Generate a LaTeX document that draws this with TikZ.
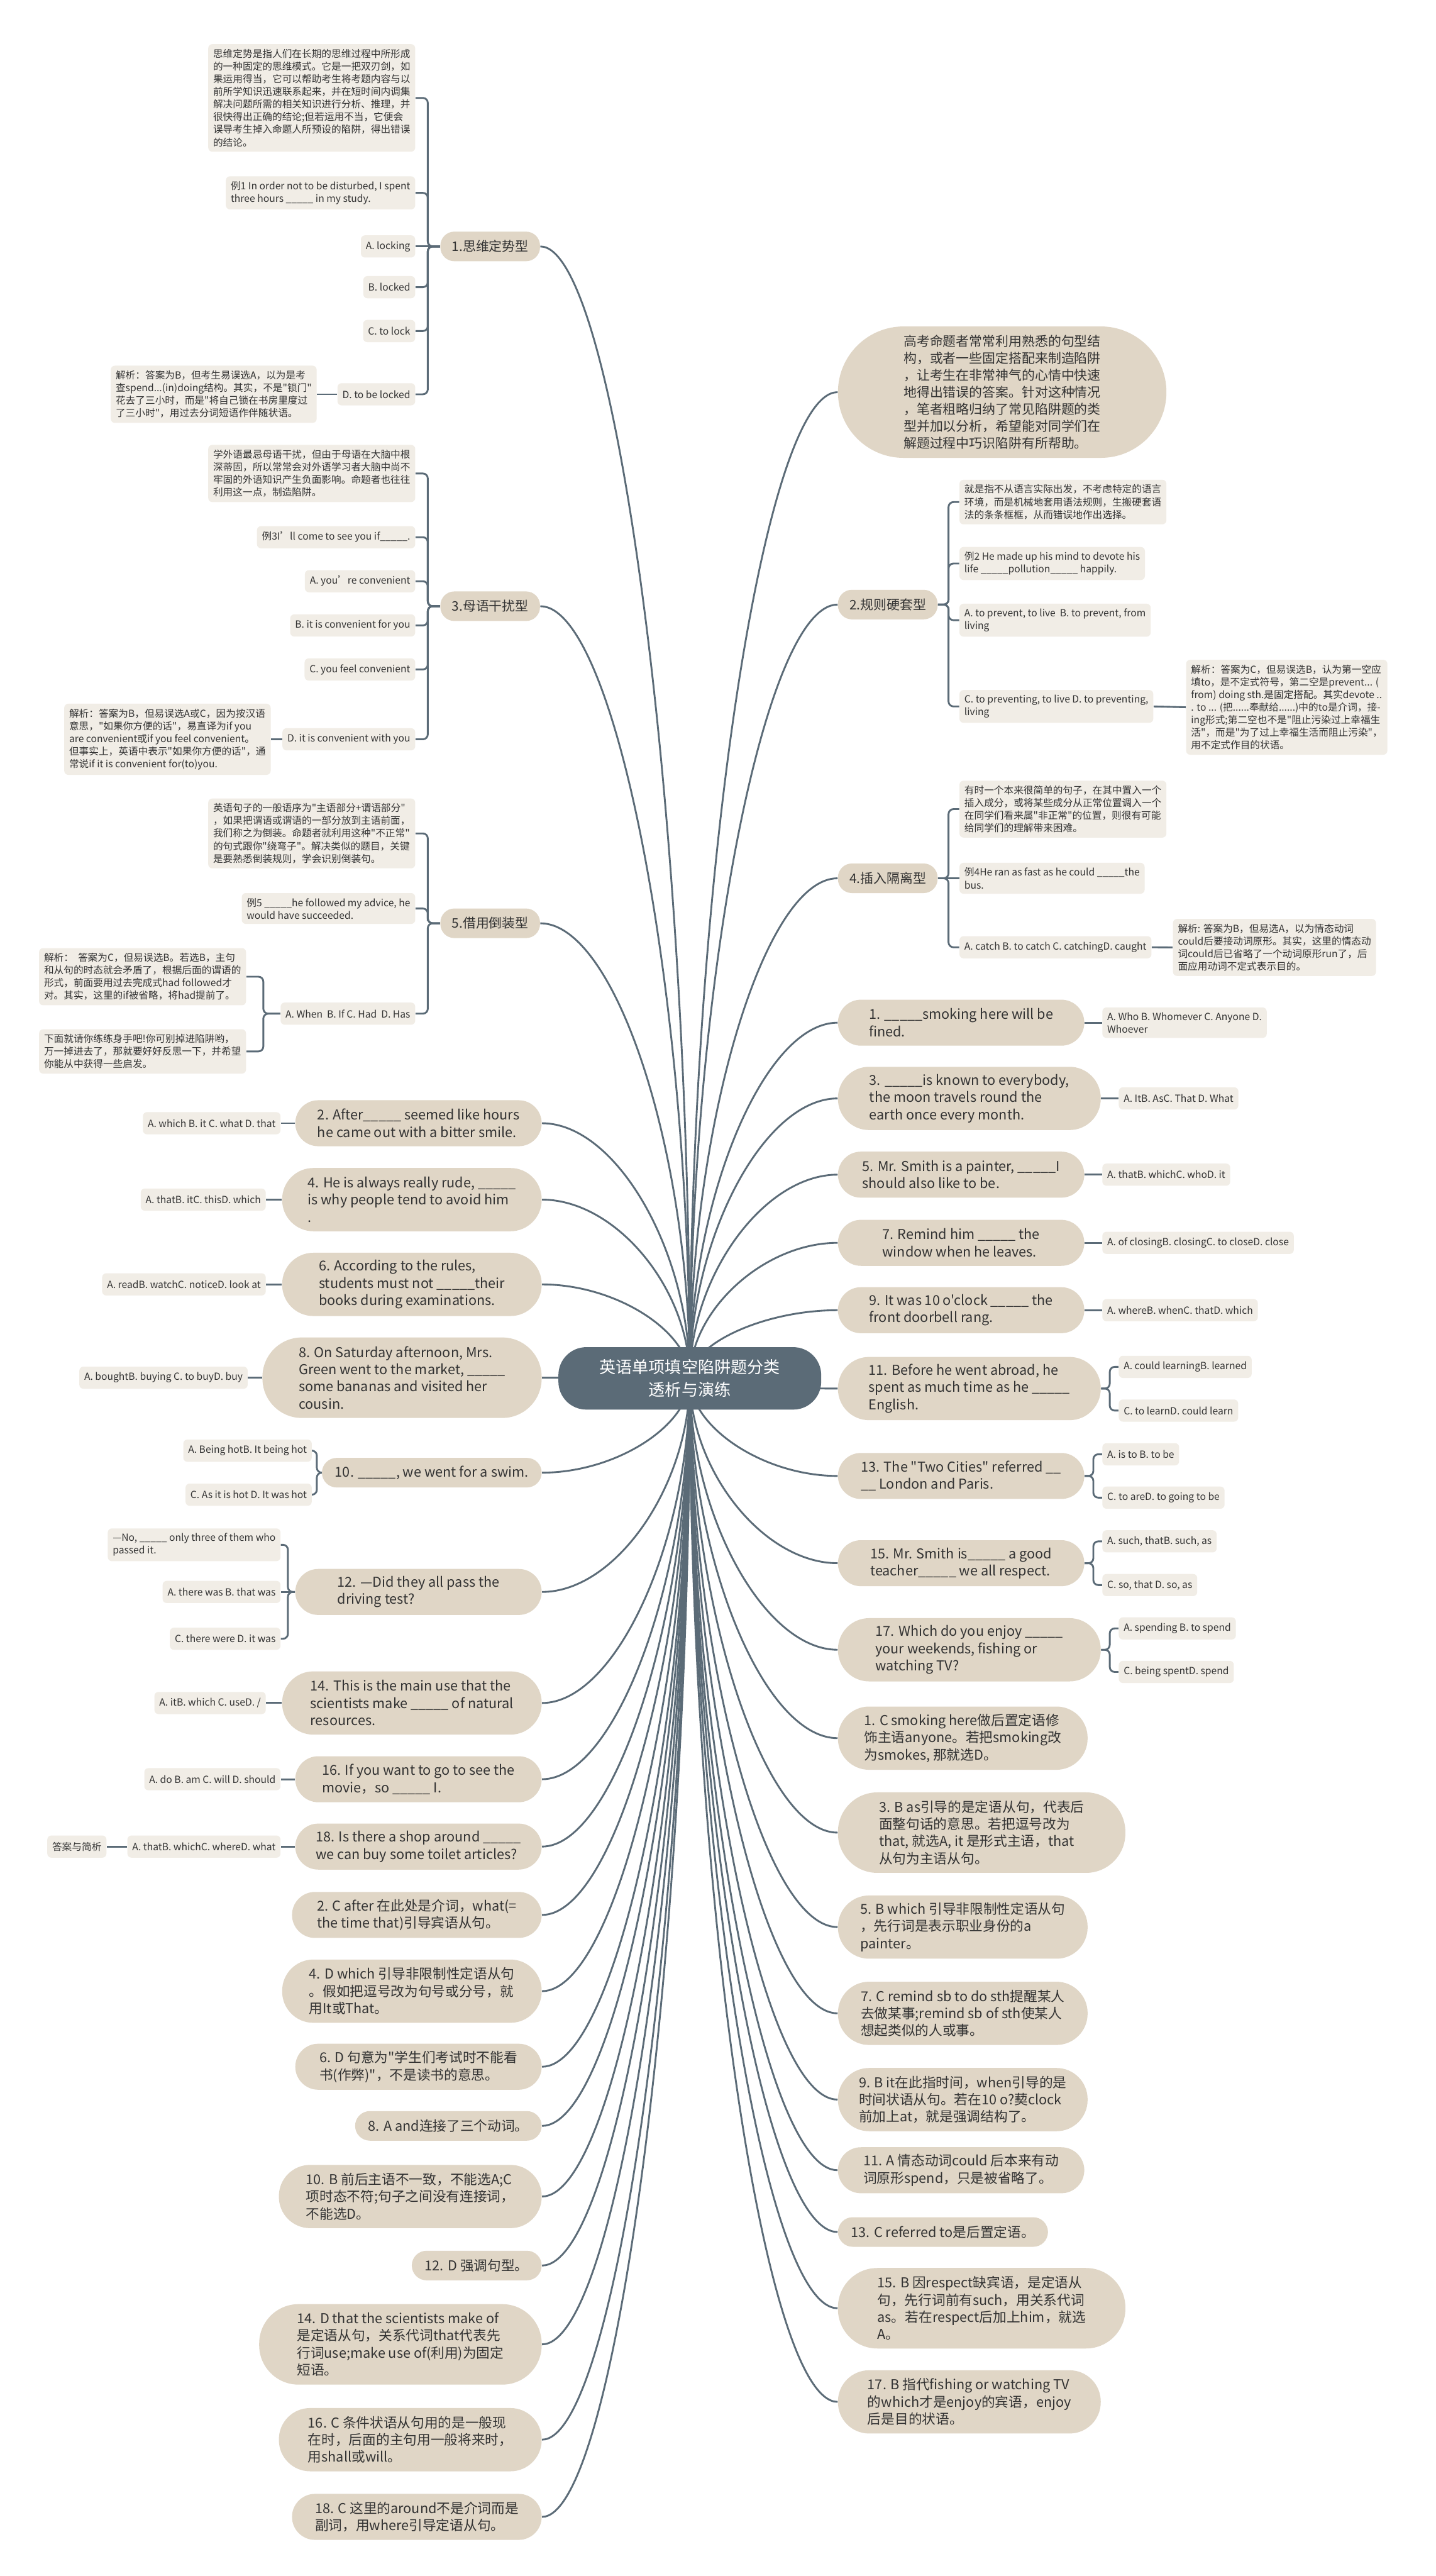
\documentclass[tikz,border=0pt]{standalone}
\usepackage{fontspec}
\setmainfont{Noto Sans CJK SC}[Ligatures=TeXOff]
\usetikzlibrary{calc,backgrounds}
\definecolor{rootc}{HTML}{5B6B77}
\definecolor{topicc}{HTML}{E0D6C6}
\definecolor{leafc}{HTML}{F1EDE6}
\definecolor{linec}{HTML}{5B6B77}
\definecolor{textc}{HTML}{333333}
\newcommand{\qblank}{\_\_\_\_\_}

\begin{document}
\begin{tikzpicture}
[
  x=1pt, y=-1pt,
  every node/.style={text=textc, inner sep=3pt},
  root/.style={fill=rootc, text=white, rounded corners=17pt, minimum width=160pt, minimum height=38pt, align=center, font=\fontsize{10}{14}\selectfont},
  cat/.style={fill=topicc, rounded corners=8.5pt, minimum height=18pt, inner xsep=7pt, font=\fontsize{8}{10}\selectfont},
  intro/.style={fill=topicc, rounded corners=40pt, minimum width=200pt, minimum height=80pt, align=left, font=\fontsize{8}{10.3}\selectfont},
  leaf/.style={fill=leafc, rounded corners=2.5pt, minimum height=13.5pt, align=left, font=\fontsize{6}{7.7}\selectfont},
  pill/.style={fill=topicc, align=left, inner xsep=8pt, inner ysep=4pt, font=\fontsize{8.3}{10.5}\selectfont},
  p1/.style={pill, minimum height=18pt, rounded corners=9pt},
  p2/.style={pill, minimum height=28pt, rounded corners=14pt},
  p3/.style={pill, minimum height=38.5pt, rounded corners=19pt},
  p4/.style={pill, minimum height=49pt, rounded corners=24pt},
  trunk/.style={to path={.. controls ($(\tikztostart)!0.5!(\tikztostart|-\tikztotarget)$) and ($(\tikztotarget)!0.5!(\tikztostart|-\tikztotarget)$) .. (\tikztotarget)}},
  bracket/.style={to path={-| ($(\tikztostart)!0.5!(\tikztotarget)$) |- (\tikztotarget)}},
  link/.style={draw=linec, line width=1.1pt, rounded corners=3pt}
]
\useasboundingbox (0,0) rectangle (874,1568);

\node[root] (root) at (420,839) {英语单项填空陷阱题分类\\透析与演练};

% left: 1
\node[cat, anchor=east] (think) at (329,150) {1.思维定势型};
\node[leaf, anchor=east] (t1) at (253,59.6) {思维定势是指人们在长期的思维过程中所形成\\的一种固定的思维模式。它是一把双刃剑，如\\果运用得当，它可以帮助考生将考题内容与以\\前所学知识迅速联系起来，并在短时间内调集\\解决问题所需的相关知识进行分析、推理，并\\很快得出正确的结论;但若运用不当，它便会\\误导考生掉入命题人所预设的陷阱，得出错误\\的结论。};
\node[leaf, anchor=east] (t2) at (253,117.4) {例1 In order not to be disturbed, I spent\\three hours \qblank{} in my study.};
\node[leaf, anchor=east] (t3) at (253,150) {A. locking};
\node[leaf, anchor=east] (t4) at (253,174.8) {B. locked};
\node[leaf, anchor=east] (t5) at (253,201.5) {C. to lock};
\node[leaf, anchor=east] (t6) at (253,240) {D. to be locked};
\node[leaf, anchor=east] (t7) at (193,240) {解析：答案为B，但考生易误选A，以为是考\\查spend...(in)doing结构。其实，不是"锁门"\\花去了三小时，而是"将自己锁在书房里度过\\了三小时"，用过去分词短语作伴随状语。};

% left: 3
\node[cat, anchor=east] (mother) at (329,369) {3.母语干扰型};
\node[leaf, anchor=east] (m1) at (253,288.2) {学外语最忌母语干扰，但由于母语在大脑中根\\深蒂固，所以常常会对外语学习者大脑中尚不\\牢固的外语知识产生负面影响。命题者也往往\\利用这一点，制造陷阱。};
\node[leaf, anchor=east] (m2) at (253,327) {例3I’ll come to see you if\qblank.};
\node[leaf, anchor=east] (m3) at (253,353.8) {A. you’re convenient};
\node[leaf, anchor=east] (m4) at (253,380.7) {B. it is convenient for you};
\node[leaf, anchor=east] (m5) at (253,407.5) {C. you feel convenient};
\node[leaf, anchor=east] (m6) at (253,450) {D. it is convenient with you};
\node[leaf, anchor=east] (m7) at (165,450) {解析：答案为B，但易误选A或C，因为按汉语\\意思，"如果你方便的话"，易直译为if you\\are convenient或if you feel convenient。\\但事实上，英语中表示"如果你方便的话"，通\\常说if it is convenient for(to)you.};

% left: 5
\node[cat, anchor=east] (invert) at (329,562) {5.借用倒装型};
\node[leaf, anchor=east] (v1) at (253,507.3) {英语句子的一般语序为"主语部分+谓语部分"\\，如果把谓语或谓语的一部分放到主语前面，\\我们称之为倒装。命题者就利用这种"不正常"\\的句式跟你"绕弯子"。解决类似的题目，关键\\是要熟悉倒装规则，学会识别倒装句。};
\node[leaf, anchor=east] (v2) at (253,553) {例5 \qblank{}he followed my advice, he\\would have succeeded.};
\node[leaf, anchor=east] (v3) at (253,617) {A. When\ \ B. If C. Had\ \ D. Has};
\node[leaf, anchor=east] (v4) at (150,594.5) {解析：\ \ 答案为C，但易误选B。若选B，主句\\和从句的时态就会矛盾了，根据后面的谓语的\\形式，前面要用过去完成式had followed才\\对。其实，这里的if被省略，将had提前了。};
\node[leaf, anchor=east] (v5) at (150,640) {下面就请你练练身手吧!你可别掉进陷阱哟，\\万一掉进去了，那就要好好反思一下，并希望\\你能从中获得一些启发。};

% right: intro, 2, 4
\node[intro, anchor=west] (lead) at (510,238.7) {高考命题者常常利用熟悉的句型结\\构，或者一些固定搭配来制造陷阱\\，让考生在非常神气的心情中快速\\地得出错误的答案。针对这种情况\\，笔者粗略归纳了常见陷阱题的类\\型并加以分析，希望能对同学们在\\解题过程中巧识陷阱有所帮助。};
\node[cat, anchor=west] (rule) at (510,368) {2.规则硬套型};
\node[leaf, anchor=west] (r1) at (584,305.6) {就是指不从语言实际出发，不考虑特定的语言\\环境，而是机械地套用语法规则，生搬硬套语\\法的条条框框，从而错误地作出选择。};
\node[leaf, anchor=west] (r2) at (584,343) {例2 He made up his mind to devote his\\life \qblank{}pollution\qblank{} happily.};
\node[leaf, anchor=west] (r3) at (584,377.5) {A. to prevent, to live\ \ B. to prevent, from\\living};
\node[leaf, anchor=west] (r4) at (584,430) {C. to preventing, to live D. to preventing,\\living};
\node[leaf, anchor=west] (r5) at (722,430.5) {解析：答案为C，但易误选B，认为第一空应\\填to，是不定式符号，第二空是prevent... (\\from) doing sth.是固定搭配。其实devote ..\\. to ... (把......奉献给......)中的to是介词，接-\\ing形式;第二空也不是"阻止污染过上幸福生\\活"，而是"为了过上幸福生活而阻止污染"，\\用不定式作目的状语。};
\node[cat, anchor=west] (insert) at (510,534.6) {4.插入隔离型};
\node[leaf, anchor=west] (s1) at (584,492.5) {有时一个本来很简单的句子，在其中置入一个\\插入成分，或将某些成分从正常位置调入一个\\在同学们看来属"非正常"的位置，则很有可能\\给同学们的理解带来困难。};
\node[leaf, anchor=west] (s2) at (584,534.6) {例4He ran as fast as he could \qblank{}the\\bus.};
\node[leaf, anchor=west] (s3) at (584,576.6) {A. catch B. to catch C. catchingD. caught};
\node[leaf, anchor=west] (s4) at (714,576.7) {解析: 答案为B，但易选A，以为情态动词\\could后要接动词原形。其实，这里的情态动\\词could后已省略了一个动词原形run了，后\\面应用动词不定式表示目的。};

% right: odd questions
\node[p2, anchor=west, minimum width=150pt] (q1) at (510,622.5) {1. \qblank{}smoking here will be\\fined.};
\node[leaf, anchor=west] (o1) at (671,622.5) {A. Who B. Whomever C. Anyone D.\\Whoever};
\node[p3, anchor=west, minimum width=160pt] (q3) at (510,668.6) {3. \qblank{}is known to everybody,\\the moon travels round the\\earth once every month.};
\node[leaf, anchor=west] (o3) at (681,668.6) {A. ItB. AsC. That D. What};
\node[p2, anchor=west, minimum width=150pt] (q5) at (510,715) {5. Mr. Smith is a painter, \qblank{}I\\should also like to be.};
\node[leaf, anchor=west] (o5) at (671,715) {A. thatB. whichC. whoD. it};
\node[p2, anchor=west, minimum width=150pt] (q7) at (510,756.5) {7. Remind him \qblank{} the\\window when he leaves.};
\node[leaf, anchor=west] (o7) at (671,756.5) {A. of closingB. closingC. to closeD. close};
\node[p2, anchor=west, minimum width=150pt] (q9) at (510,797.5) {9. It was 10 o'clock \qblank{} the\\front doorbell rang.};
\node[leaf, anchor=west] (o9) at (671,797.5) {A. whereB. whenC. thatD. which};
\node[p3, anchor=west, minimum width=160pt] (q11) at (510,845.2) {11. Before he went abroad, he\\spent as much time as he \qblank\\English.};
\node[leaf, anchor=west] (o11a) at (681,832) {A. could learningB. learned};
\node[leaf, anchor=west] (o11b) at (681,858.6) {C. to learnD. could learn};
\node[p2, anchor=west, minimum width=150pt] (q13) at (510,898.4) {13. The "Two Cities" referred \_\_\\\_\_ London and Paris.};
\node[leaf, anchor=west] (o13a) at (671,885.2) {A. is to B. to be};
\node[leaf, anchor=west] (o13b) at (671,911.6) {C. to areD. to going to be};
\node[p2, anchor=west, minimum width=150pt] (q15) at (510,951.5) {15. Mr. Smith is\qblank{} a good\\teacher\qblank{} we all respect.};
\node[leaf, anchor=west] (o15a) at (671,938.2) {A. such, thatB. such, as};
\node[leaf, anchor=west] (o15b) at (671,964.8) {C. so, that D. so, as};
\node[p3, anchor=west, minimum width=160pt] (q17) at (510,1004.2) {17. Which do you enjoy \qblank\\your weekends, fishing or\\watching TV?};
\node[leaf, anchor=west] (o17a) at (681,991.2) {A. spending B. to spend};
\node[leaf, anchor=west] (o17b) at (681,1017.7) {C. being spentD. spend};

% right: odd answers
\node[p3, anchor=west, minimum width=152pt] (a1) at (510,1058) {1. C smoking here做后置定语修\\饰主语anyone。若把smoking改\\为smokes, 那就选D。};
\node[p4, anchor=west, minimum width=175pt] (a3) at (510,1115.5) {3. B as引导的是定语从句，代表后\\面整句话的意思。若把逗号改为\\that, 就选A, it 是形式主语，that\\从句为主语从句。};
\node[p3, anchor=west, minimum width=152pt] (a5) at (510,1173) {5. B which 引导非限制性定语从句\\，先行词是表示职业身份的a\\painter。};
\node[p3, anchor=west, minimum width=152pt] (a7) at (510,1225.5) {7. C remind sb to do sth提醒某人\\去做某事;remind sb of sth使某人\\想起类似的人或事。};
\node[p3, anchor=west, minimum width=152pt] (a9) at (510,1278) {9. B it在此指时间，when引导的是\\时间状语从句。若在10 o?葜clock\\前加上at，就是强调结构了。};
\node[p2, anchor=west, minimum width=150pt] (a11) at (510,1321) {11. A 情态动词could 后本来有动\\词原形spend，只是被省略了。};
\node[p1, anchor=west, minimum width=125pt] (a13) at (510,1358.6) {13. C referred to是后置定语。};
\node[p4, anchor=west, minimum width=175pt] (a15) at (510,1405) {15. B 因respect缺宾语，是定语从\\句，先行词前有such，用关系代词\\as。若在respect后加上him，就选\\A。};
\node[p3, anchor=west, minimum width=160pt] (a17) at (510,1462) {17. B 指代fishing or watching TV\\的which才是enjoy的宾语，enjoy\\后是目的状语。};

% left: even questions
\node[p2, anchor=east, minimum width=150pt] (q2) at (330,683.7) {2. After\qblank{} seemed like hours\\he came out with a bitter smile.};
\node[leaf, anchor=east] (o2) at (171,683.7) {A. which B. it C. what D. that};
\node[p3, anchor=east, minimum width=158pt] (q4) at (330,730.2) {4. He is always really rude, \qblank\\is why people tend to avoid him\\.};
\node[leaf, anchor=east] (o4) at (162,730.2) {A. thatB. itC. thisD. which};
\node[p3, anchor=east, minimum width=158pt] (q6) at (330,781.8) {6. According to the rules,\\students must not \qblank{}their\\books during examinations.};
\node[leaf, anchor=east] (o6) at (162,781.8) {A. readB. watchC. noticeD. look at};
\node[p4, anchor=east, minimum width=170pt] (q8) at (330,838.6) {8. On Saturday afternoon, Mrs.\\Green went to the market, \qblank\\some bananas and visited her\\cousin.};
\node[leaf, anchor=east] (o8) at (151,838.6) {A. boughtB. buying C. to buyD. buy};
\node[p1, anchor=east, minimum width=130pt] (q10) at (330,896.4) {10. \qblank, we went for a swim.};
\node[leaf, anchor=east] (o10a) at (190,883) {A. Being hotB. It being hot};
\node[leaf, anchor=east] (o10b) at (190,909.8) {C. As it is hot D. It was hot};
\node[p2, anchor=east, minimum width=150pt] (q12) at (330,969) {12. —Did they all pass the\\driving test?};
\node[leaf, anchor=east] (o12a) at (171,940.3) {—No, \qblank{} only three of them who\\passed it.};
\node[leaf, anchor=east] (o12b) at (171,969) {A. there was B. that was};
\node[leaf, anchor=east] (o12c) at (171,997.5) {C. there were D. it was};
\node[p3, anchor=east, minimum width=158pt] (q14) at (330,1036.6) {14. This is the main use that the\\scientists make \qblank{} of natural\\resources.};
\node[leaf, anchor=east] (o14) at (162,1036.6) {A. itB. which C. useD. /};
\node[p2, anchor=east, minimum width=150pt] (q16) at (330,1083) {16. If you want to go to see the\\movie，so \qblank{} I.};
\node[leaf, anchor=east] (o16) at (171,1083) {A. do B. am C. will D. should};
\node[p2, anchor=east, minimum width=150pt] (q18) at (330,1124) {18. Is there a shop around \qblank\\we can buy some toilet articles?};
\node[leaf, anchor=east] (o18) at (171,1124) {A. thatB. whichC. whereD. what};
\node[leaf, anchor=east] (key) at (65,1124) {答案与简析};

% left: even answers
\node[p2, anchor=east, minimum width=152pt] (a2) at (330,1165.6) {2. C after 在此处是介词，what(=\\the time that)引导宾语从句。};
\node[p3, anchor=east, minimum width=158pt] (a4) at (330,1212) {4. D which 引导非限制性定语从句\\。假如把逗号改为句号或分号，就\\用It或That。};
\node[p2, anchor=east, minimum width=150pt] (a6) at (330,1258) {6. D 句意为"学生们考试时不能看\\书(作弊)"，不是读书的意思。};
\node[p1, anchor=east, minimum width=108pt] (a8) at (330,1294) {8. A and连接了三个动词。};
\node[p3, anchor=east, minimum width=160pt] (a10) at (330,1337) {10. B 前后主语不一致，不能选A;C\\项时态不符;句子之间没有连接词，\\不能选D。};
\node[p1, anchor=east, minimum width=78pt] (a12) at (330,1379) {12. D 强调句型。};
\node[p4, anchor=east, minimum width=172pt] (a14) at (330,1427) {14. D that the scientists make of\\是定语从句，关系代词that代表先\\行词use;make use of(利用)为固定\\短语。};
\node[p3, anchor=east, minimum width=160pt] (a16) at (330,1485) {16. C 条件状语从句用的是一般现\\在时，后面的主句用一般将来时，\\用shall或will。};
\node[p2, anchor=east, minimum width=152pt] (a18) at (330,1532) {18. C 这里的around不是介词而是\\副词，用where引导定语从句。};

\begin{scope}[on background layer]
  \fill[white] (0,0) rectangle (874,1568);
  % trunk lines
  \foreach \n in {think,mother,invert,q2,q4,q6,q8,q10,q12,q14,q16,q18,a2,a4,a6,a8,a10,a12,a14,a16,a18}
    \draw[link] (root.center) to[trunk] (\n.east);
  \foreach \n in {lead,rule,insert,q1,q3,q5,q7,q9,q11,q13,q15,q17,a1,a3,a5,a7,a9,a11,a13,a15,a17}
    \draw[link] (root.center) to[trunk] (\n.west);
  % left branches
  \foreach \n in {t1,t2,t4,t5,t6} \draw[link] (think.west) to[bracket] (\n.east);
  \draw[link] (think.west) -- (t3.east);
  \draw[link] (t6.west) -- (t7.east);
  \foreach \n in {m1,m2,m3,m4,m5,m6} \draw[link] (mother.west) to[bracket] (\n.east);
  \draw[link] (m6.west) -- (m7.east);
  \foreach \n in {v1,v2,v3} \draw[link] (invert.west) to[bracket] (\n.east);
  \foreach \n in {v4,v5} \draw[link] (v3.west) to[bracket] (\n.east);
  \foreach \q in {2,4,6,8,14,16,18} \draw[link] (q\q.west) -- (o\q.east);
  \foreach \n in {o10a,o10b} \draw[link] (q10.west) to[bracket] (\n.east);
  \foreach \n in {o12a,o12c} \draw[link] (q12.west) to[bracket] (\n.east);
  \draw[link] (q12.west) -- (o12b.east);
  \draw[link] (o18.west) -- (key.east);
  % right branches
  \foreach \n in {r1,r2,r3,r4} \draw[link] (rule.east) to[bracket] (\n.west);
  \draw[link] (r4.east) -- (r5.west);
  \foreach \n in {s1,s3} \draw[link] (insert.east) to[bracket] (\n.west);
  \draw[link] (insert.east) -- (s2.west);
  \draw[link] (s3.east) -- (s4.west);
  \foreach \q in {1,3,5,7,9} \draw[link] (q\q.east) -- (o\q.west);
  \foreach \q in {11,13,15,17} {
    \draw[link] (q\q.east) to[bracket] (o\q a.west);
    \draw[link] (q\q.east) to[bracket] (o\q b.west);
  }
\end{scope}
\end{tikzpicture}
\end{document}
